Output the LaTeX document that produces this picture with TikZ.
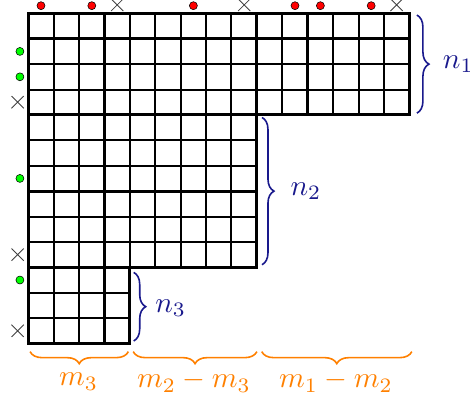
\documentclass[tikz,border=0pt]{standalone}
\usetikzlibrary{decorations.pathreplacing,shapes.misc}
\definecolor{bracenavy}{RGB}{25,25,140}
\definecolor{braceorange}{RGB}{255,128,0}
\begin{document}
\begin{tikzpicture}[x=19.05pt,y=-19.05pt,
  thingrid/.style={line width=1.5pt},
  thickgrid/.style={line width=2.3pt},
  reddot/.style={circle, fill=red, draw=black, line width=0.4pt, inner sep=0pt, minimum size=6pt},
  greendot/.style={circle, fill=green, draw=black, line width=0.4pt, inner sep=0pt, minimum size=6pt},
  xmark/.style={cross out, draw=black!75, line width=0.65pt, inner sep=0pt, minimum size=8.5pt},
  rbrace/.style={decorate, decoration={brace, amplitude=9pt}, draw=bracenavy, line width=1.2pt},
  bbrace/.style={decorate, decoration={brace, amplitude=9pt, mirror}, draw=braceorange, line width=1.2pt},
  nlabel/.style={text=bracenavy, anchor=west, inner sep=0pt, scale=2.2, transform shape},
  mlabel/.style={text=braceorange, inner sep=0pt, scale=2.2, transform shape}]
\useasboundingbox (-1.114,-0.524) rectangle (17.39,15.42);
% thin grid lines
\foreach \k in {1,...,4} \draw[thingrid] (\k,0) -- (\k,13);
\foreach \k in {5,...,8} \draw[thingrid] (\k,0) -- (\k,10);
\foreach \k in {10,...,14} \draw[thingrid] (\k,0) -- (\k,4);
\foreach \j in {1,2,3} \draw[thingrid] (0,\j) -- (15,\j);
\foreach \j in {5,6,8,9} \draw[thingrid] (0,\j) -- (9,\j);
\foreach \j in {11,12} \draw[thingrid] (0,\j) -- (4,\j);
% thick lines
\draw[thickgrid, line cap=rect] (0,1) -- (15,1);
\draw[thickgrid, line cap=rect] (0,4) -- (9,4);
\draw[thickgrid, line cap=rect] (0,7) -- (9,7);
\draw[thickgrid, line cap=rect] (0,10) -- (4,10);
\draw[thickgrid, line cap=rect] (3,0) -- (3,13);
\draw[thickgrid, line cap=rect] (9,0) -- (9,4);
\draw[thickgrid, line cap=rect] (11,0) -- (11,4);
\draw[thickgrid, line join=miter] (0,0) -- (15,0) -- (15,4) -- (9,4) -- (9,10) -- (4,10) -- (4,13) -- (0,13) -- cycle;
% top markers
\node[reddot] (r1) at (0.5,-0.30) {};
\node[reddot] (r2) at (2.5,-0.30) {};
\node[reddot] (r3) at (6.5,-0.30) {};
\node[reddot] (r4) at (10.5,-0.30) {};
\node[reddot] (r5) at (11.5,-0.30) {};
\node[reddot] (r6) at (13.5,-0.30) {};
\node[xmark] (xt1) at (3.5,-0.33) {};
\node[xmark] (xt2) at (8.5,-0.33) {};
\node[xmark] (xt3) at (14.5,-0.33) {};
% left markers
\node[greendot] (g1) at (-0.33,1.5) {};
\node[greendot] (g2) at (-0.33,2.5) {};
\node[greendot] (g3) at (-0.33,6.5) {};
\node[greendot] (g4) at (-0.33,10.5) {};
\node[xmark] (xl1) at (-0.42,3.5) {};
\node[xmark] (xl2) at (-0.42,9.5) {};
\node[xmark] (xl3) at (-0.42,12.5) {};
% right braces
\coordinate (b1s) at (15.3,0.07);
\coordinate (b1e) at (15.3,3.93);
\draw[rbrace] (b1s) -- (b1e);
\node[nlabel] (n1) at (16.3,2.0) {$n_1$};
\coordinate (b2s) at (9.2,4.1);
\coordinate (b2e) at (9.2,9.9);
\draw[rbrace] (b2s) -- (b2e);
\node[nlabel] (n2) at (10.3,7.0) {$n_2$};
\coordinate (b3s) at (4.15,10.2);
\coordinate (b3e) at (4.15,12.9);
\draw[rbrace] (b3s) -- (b3e);
\node[nlabel] (n3) at (4.98,11.6) {$n_3$};
% bottom braces
\coordinate (m1s) at (0.07,13.32);
\coordinate (m1e) at (3.94,13.32);
\draw[bbrace] (m1s) -- (m1e);
\node[mlabel] (lm3) at (1.98,14.5) {$m_3$};
\coordinate (m2s) at (4.13,13.32);
\coordinate (m2e) at (9.0,13.32);
\draw[bbrace] (m2s) -- (m2e);
\node[mlabel] (lm23) at (6.52,14.5) {$m_2-m_3$};
\coordinate (m3s) at (9.19,13.32);
\coordinate (m3e) at (15.1,13.32);
\draw[bbrace] (m3s) -- (m3e);
\node[mlabel] (lm12) at (12.11,14.5) {$m_1-m_2$};
\end{tikzpicture}
\end{document}
